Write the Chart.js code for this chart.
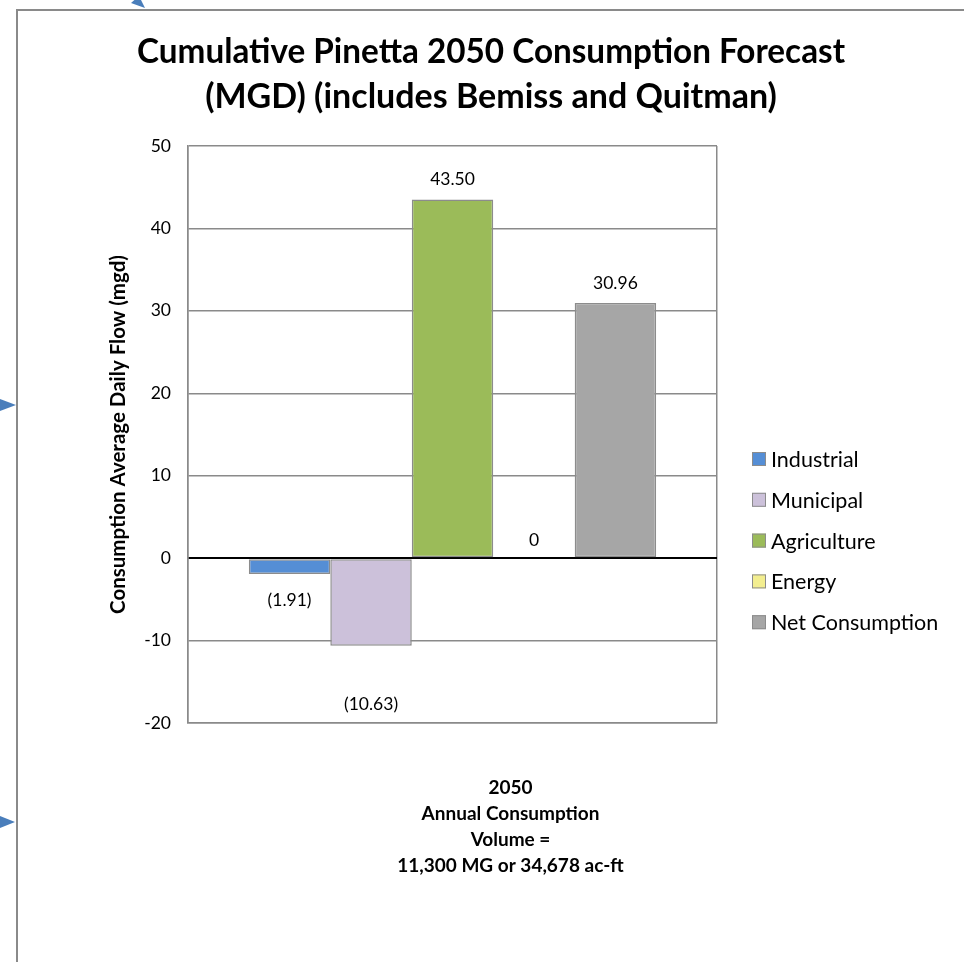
<!DOCTYPE html>
<html>
<head>
<meta charset="utf-8">
<script src="https://cdn.jsdelivr.net/npm/chart.js@4"></script>
<style>
    html, body { margin: 0; padding: 0; background: #fff; overflow: hidden; width: 964px; height: 962px; }
    #frame { position: absolute; left: 16px; top: 9px; width: 960px; height: 960px; border-left: 2px solid #8a8a8a; border-top: 2px solid #8a8a8a; }
    #chartBox { position: absolute; left: 0; top: 0; width: 946px; height: 951px; }
    #arrows { position: absolute; left: 0; top: 0; pointer-events: none; }
</style>
</head>
<body>
<div id="frame">
    <div id="chartBox"><canvas id="grafica"></canvas></div>
</div>
<svg id="arrows" width="964" height="962">
    <polygon points="145,8 131,3 139,-4" fill="#4a7ebb"/>
    <polygon points="0,399 16,405 0,411" fill="#4a7ebb"/>
    <polygon points="0,816 15,822 0,828" fill="#4a7ebb"/>
</svg>
<script>
const tituloLineas = ['Cumulative Pinetta 2050 Consumption Forecast', '(MGD) (includes Bemiss and Quitman)'];
const categorias = [['2050', 'Annual Consumption', 'Volume =', '11,300 MG or 34,678 ac-ft']];
const series = ['Industrial', 'Municipal', 'Agriculture', 'Energy', 'Net Consumption'];
const valores = [-1.91, -10.63, 43.50, 0, 30.96];
const colores = ['#558ed5', '#ccc1da', '#9bbb59', '#f3ee8f', '#a6a6a6'];
const ejeY = { min: -20, max: 50, paso: 10 };
const tituloEjeY = 'Consumption Average Daily Flow (mgd)';

const FUENTE = "Lato, 'Open Sans', sans-serif";

function formatoValor(v) {
    if (v === 0) return '0';
    if (v < 0) return '(' + Math.abs(v).toFixed(2) + ')';
    return v.toFixed(2);
}

// desplazamiento vertical de cada etiqueta respecto al extremo de la barra
const desplazamientoEtiquetas = [26, 59, -20, -18, -20];

const pluginTextos = {
    id: 'textosExtra',
    afterDraw(chart) {
        const ctx = chart.ctx;
        ctx.save();

        // titulo
        ctx.fillStyle = '#000';
        ctx.textAlign = 'center';
        ctx.textBaseline = 'middle';
        ctx.font = 'bold 34px ' + FUENTE;
        ctx.fillText(tituloLineas[0], 473, 41, 708);
        ctx.fillText(tituloLineas[1], 473, 86, 576);

        // etiquetas de datos
        ctx.font = '17.5px ' + FUENTE;
        chart.data.datasets.forEach((ds, i) => {
            const barra = chart.getDatasetMeta(i).data[0];
            if (!barra) return;
            ctx.fillText(formatoValor(ds.data[0]), barra.x, barra.y + desplazamientoEtiquetas[i]);
        });

        // leyenda
        ctx.textAlign = 'left';
        ctx.font = '21.5px ' + FUENTE;
        chart.data.datasets.forEach((ds, i) => {
            const y = 448 + i * 40.8;
            ctx.fillStyle = ds.backgroundColor;
            ctx.fillRect(734, y - 7, 14, 14);
            ctx.strokeStyle = '#8c8c8c';
            ctx.lineWidth = 1;
            ctx.strokeRect(734.5, y - 6.5, 13, 13);
            ctx.fillStyle = '#000';
            ctx.fillText(ds.label, 753, y + 1);
        });
        ctx.restore();
    }
};

document.addEventListener('DOMContentLoaded', function() {
    const ctx = document.getElementById('grafica').getContext('2d');

    const datasets = series.map((nombre, i) => ({
        label: nombre,
        data: [valores[i]],
        backgroundColor: colores[i],
        borderColor: '#8c8c8c',
        borderWidth: 1.5,
        borderSkipped: false,
        categoryPercentage: 0.77,
        barPercentage: 1
    }));

    new Chart(ctx, {
        type: 'bar',
        data: { labels: categorias, datasets },
        plugins: [pluginTextos],
        options: {
            responsive: true,
            maintainAspectRatio: false,
            animation: false,
            layout: { padding: { top: 135, left: 84, right: 247, bottom: 0 } },
            plugins: {
                legend: { display: false },
                title: { display: false },
                tooltip: { enabled: false }
            },
            scales: {
                x: {
                    grid: { display: true, offset: true, drawTicks: false, color: '#8a8a8a', lineWidth: 1.5 },
                    border: { display: true, color: '#8a8a8a', width: 1.5 },
                    ticks: {
                        color: '#000',
                        padding: 52,
                        labelOffset: 58,
                        maxRotation: 0,
                        font: { family: FUENTE, size: 19, weight: 'bold', lineHeight: 1.37 }
                    },
                    afterFit(scale) { scale.height = 239; }
                },
                y: {
                    min: ejeY.min,
                    max: ejeY.max,
                    grid: {
                        drawTicks: false,
                        color: c => c.tick && c.tick.value === 0 ? '#000' : '#8a8a8a',
                        lineWidth: c => c.tick && c.tick.value === 0 ? 2 : 1.5
                    },
                    border: { display: true, color: '#8a8a8a', width: 1.5 },
                    ticks: {
                        stepSize: ejeY.paso,
                        color: '#000',
                        padding: 17,
                        font: { family: FUENTE, size: 17.5 }
                    },
                    title: {
                        display: true,
                        text: tituloEjeY,
                        color: '#000',
                        font: { family: FUENTE, size: 20.5, weight: 'bold' }
                    },
                    afterFit(scale) { scale.width = 86; }
                }
            }
        }
    });
});
</script>
</body>
</html>
